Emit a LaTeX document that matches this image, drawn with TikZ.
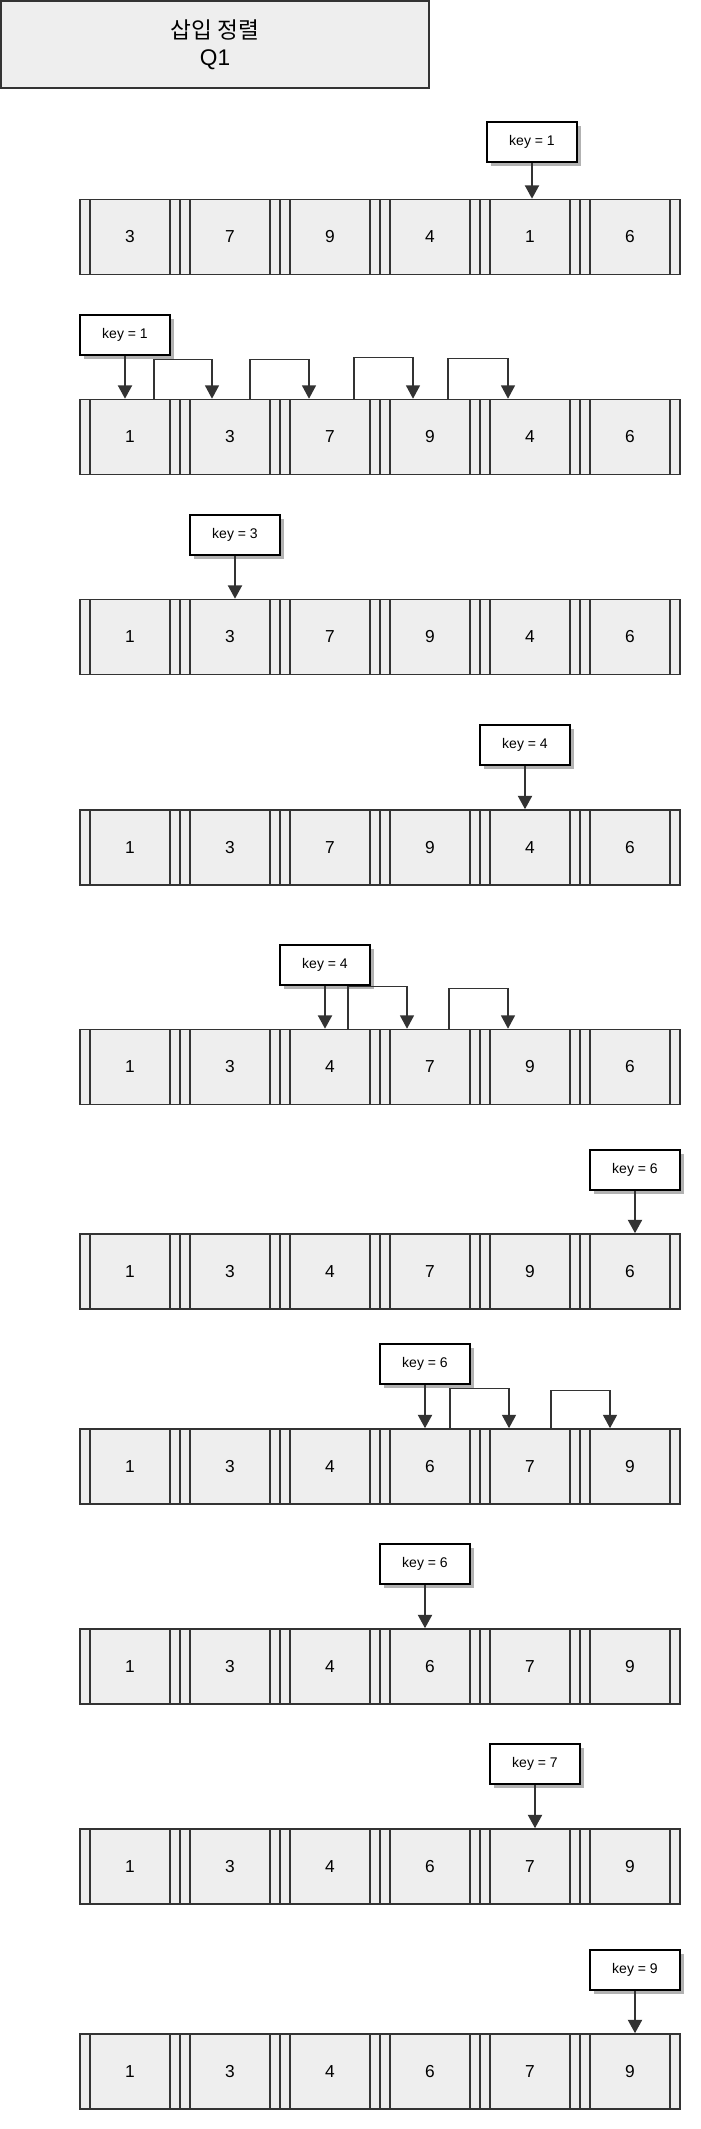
\documentclass[tikz,border=0pt]{standalone}
\usepackage{fontspec}
\setmainfont{Liberation Sans}
\newfontfamily\cjk{Noto Sans CJK KR}
\usetikzlibrary{arrows.meta, calc, shadows}
\definecolor{cellgray}{RGB}{238,238,238}
\definecolor{linegray}{RGB}{51,51,51}

\begin{document}
\begin{tikzpicture}[x=0.75pt, y=-0.75pt,
  cell/.style={draw=linegray, fill=cellgray, line width=1.2pt, minimum width=75pt, minimum height=56.25pt, inner sep=0pt, font=\fontsize{13}{15}\selectfont,
    path picture={
      \draw[linegray, line width=1.2pt] ([xshift=7.5pt]path picture bounding box.north west) -- ([xshift=7.5pt]path picture bounding box.south west);
      \draw[linegray, line width=1.2pt] ([xshift=-7.5pt]path picture bounding box.north east) -- ([xshift=-7.5pt]path picture bounding box.south east);
    }},
  keybox/.style={draw=black, fill=white, line width=1.5pt, minimum width=67.5pt, minimum height=30pt, inner sep=0pt, font=\fontsize{10.5}{12}\selectfont,
    drop shadow={shadow xshift=3pt, shadow yshift=-3pt, fill=black!30, opacity=1}},
  keyarrow/.style={draw=linegray, line width=1.5pt, -{Triangle[width=10.5pt,length=10pt]}},
  swaparrow/.style={draw=linegray, line width=1pt, -{Triangle[width=10.5pt,length=10pt]}}]

  \useasboundingbox[fill=white] (0,0) rectangle (700,2129);

  % title
  \node[draw=linegray, fill=cellgray, line width=1.5pt, minimum width=321pt, minimum height=65.25pt, align=center, font=\fontsize{17}{20}\selectfont] (title) at (215,44.5) {{\cjk 삽입 정렬}\\Q1};

  % array rows
  \foreach \r/\y/\vals in {1/237/{3,7,9,4,1,6}, 2/437/{1,3,7,9,4,6}, 3/637/{1,3,7,9,4,6}, 4/847.5/{1,3,7,9,4,6}, 5/1067/{1,3,4,7,9,6},
      6/1271.5/{1,3,4,7,9,6}, 7/1466.5/{1,3,4,6,7,9}, 8/1666.5/{1,3,4,6,7,9}, 9/1866.5/{1,3,4,6,7,9}, 10/2071.5/{1,3,4,6,7,9}}
    \foreach \v [count=\c] in \vals
      \node[cell] (r\r-\c) at (30+100*\c, \y) {\v};

  % keys
  \node[keybox] (key1) at (532,142) {key = 1};
  \node[keybox] (key2) at (125,335) {key = 1};
  \node[keybox] (key3) at (235,535) {key = 3};
  \node[keybox] (key4) at (525,745) {key = 4};
  \node[keybox] (key5) at (325,965) {key = 4};
  \node[keybox] (key6) at (635,1170) {key = 6};
  \node[keybox] (key7) at (425,1364) {key = 6};
  \node[keybox] (key8) at (425,1564) {key = 6};
  \node[keybox] (key9) at (535,1764) {key = 7};
  \node[keybox] (key10) at (635,1970) {key = 9};

  \foreach \r in {1,...,10}
    \draw[keyarrow] (key\r) -- (key\r |- r\r-1.north);

  % shifts
  \draw[swaparrow] ($(r2-1.north)+(24,0)$) -- ++(0,-39) -| ($(r2-2.north)+(-18,0)$);
  \draw[swaparrow] ($(r2-2.north)+(20,0)$) -- ++(0,-39) -| ($(r2-3.north)+(-21,0)$);
  \draw[swaparrow] ($(r2-3.north)+(24,0)$) -- ++(0,-41) -| ($(r2-4.north)+(-17,0)$);
  \draw[swaparrow] ($(r2-4.north)+(18,0)$) -- ++(0,-40) -| ($(r2-5.north)+(-22,0)$);

  \draw[swaparrow] ($(r5-3.north)+(18,0)$) -- ++(0,-42) -| ($(r5-4.north)+(-23,0)$);
  \draw[swaparrow] ($(r5-4.north)+(19,0)$) -- ++(0,-40) -| ($(r5-5.north)+(-22,0)$);

  \draw[swaparrow] ($(r7-4.north)+(20,0)$) -- ++(0,-40) -| ($(r7-5.north)+(-21,0)$);
  \draw[swaparrow] ($(r7-5.north)+(21,0)$) -- ++(0,-38) -| ($(r7-6.north)+(-20,0)$);
\end{tikzpicture}
\end{document}
